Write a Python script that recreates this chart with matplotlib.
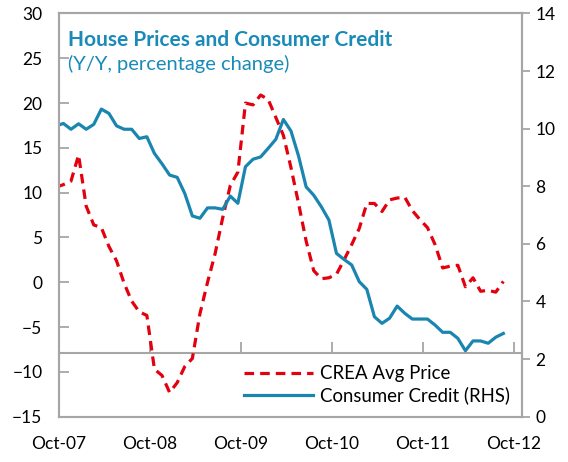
import numpy as np
import matplotlib
matplotlib.use("Agg")
import matplotlib.pyplot as plt

# monthly values, first point Sep-07 (sits just left of the Oct-07 tick)
crea = [10.6, 10.9, 11.3, 14.2, 8.5, 6.4, 6.1, 4.0, 2.4, -0.1,
        -2.1, -3.3, -3.7, -9.7, -10.4, -12.3, -11.2, -9.4, -8.5, -3.5,
        0.0, 3.2, 7.2, 10.8, 12.3, 20.0, 19.8, 20.9, 20.4, 18.4,
        16.4, 12.8, 8.8, 4.6, 1.3, 0.4, 0.5, 0.9, 2.5, 4.2,
        6.0, 8.8, 8.8, 7.9, 9.2, 9.4, 9.5, 8.0, 7.0, 6.1,
        4.2, 1.6, 1.8, 1.9, -0.5, 0.5, -1.0, -0.9, -1.1, 0.1]
credit = [10.1, 10.18, 9.98, 10.17, 9.98, 10.15, 10.68, 10.53, 10.1, 9.98,
          9.98, 9.66, 9.72, 9.14, 8.78, 8.39, 8.31, 7.75, 6.97, 6.89,
          7.25, 7.25, 7.2, 7.66, 7.41, 8.68, 8.94, 9.02, 9.32, 9.63,
          10.32, 9.92, 9.05, 7.98, 7.69, 7.29, 6.83, 5.67, 5.46, 5.27,
          4.69, 4.42, 3.47, 3.24, 3.42, 3.84, 3.59, 3.39, 3.39, 3.39,
          3.18, 2.93, 2.93, 2.72, 2.29, 2.63, 2.63, 2.55, 2.76, 2.89]
tick_pos = [0, 12, 24, 36, 48, 60]
tick_labels = ["Oct-07", "Oct-08", "Oct-09", "Oct-10", "Oct-11", "Oct-12"]

RED = "#E3000F"
BLUE = "#1A86B0"
TITLE = "#1A8BB8"
GRID = "#A6A6A6"

plt.rcParams["font.family"] = ["Lato", "DejaVu Sans"]

fig = plt.figure(figsize=(5.68, 4.62), dpi=100)
ax = fig.add_axes([0.1039, 0.0981, 0.8146, 0.8727])
ax2 = ax.twinx()

x = np.arange(len(crea)) - 0.42
l1, = ax.plot(x, crea, color=RED, lw=2.3, dashes=(3, 1.9),
              label="CREA Avg Price")
l2, = ax2.plot(x, credit, color=BLUE, lw=2.3, label="Consumer Credit (RHS)")

ax.set_xlim(0, 61)
ax.set_ylim(-15, 30)
ax2.set_ylim(0, 14)
ax.set_yticks(np.arange(-15, 31, 5))
ax2.set_yticks(np.arange(0, 15, 2))
ax.set_xticks(tick_pos)
ax.set_xticklabels(tick_labels)

for a in (ax, ax2):
    for s in a.spines.values():
        s.set_color(GRID)
        s.set_linewidth(1.5)

ax.tick_params(axis="y", direction="in", length=7, width=1.3, color=GRID,
               labelsize=12.5, pad=12)
ax.tick_params(axis="x", length=0, labelsize=12.5, pad=14)
ax2.tick_params(axis="y", direction="out", length=6, width=1.3, color=GRID,
                labelsize=12.5, pad=4)

# horizontal category axis sitting at about -7.85 on the left scale
sec = ax.secondary_xaxis((-7.85 + 15) / 45)
sec.set_xticks(tick_pos)
sec.tick_params(direction="in", length=8, width=1.3, color=GRID,
                labelbottom=False)
sec.spines["bottom"].set_color(GRID)
sec.spines["bottom"].set_linewidth(1.5)

ax.text(0.019, 0.960, "House Prices and Consumer Credit", transform=ax.transAxes,
        fontsize=15, fontweight="bold", color=TITLE, va="top")
ax.text(0.019, 0.898, "(Y/Y, percentage change)", transform=ax.transAxes,
        fontsize=14.5, color=TITLE, va="top")

ax2.legend([l1, l2], ["CREA Avg Price", "Consumer Credit (RHS)"],
           loc="lower right", frameon=False, fontsize=13.4, handlelength=3.7,
           handletextpad=0.35, labelspacing=0.25, borderaxespad=0.25)

fig.savefig("out.png", dpi=100)
